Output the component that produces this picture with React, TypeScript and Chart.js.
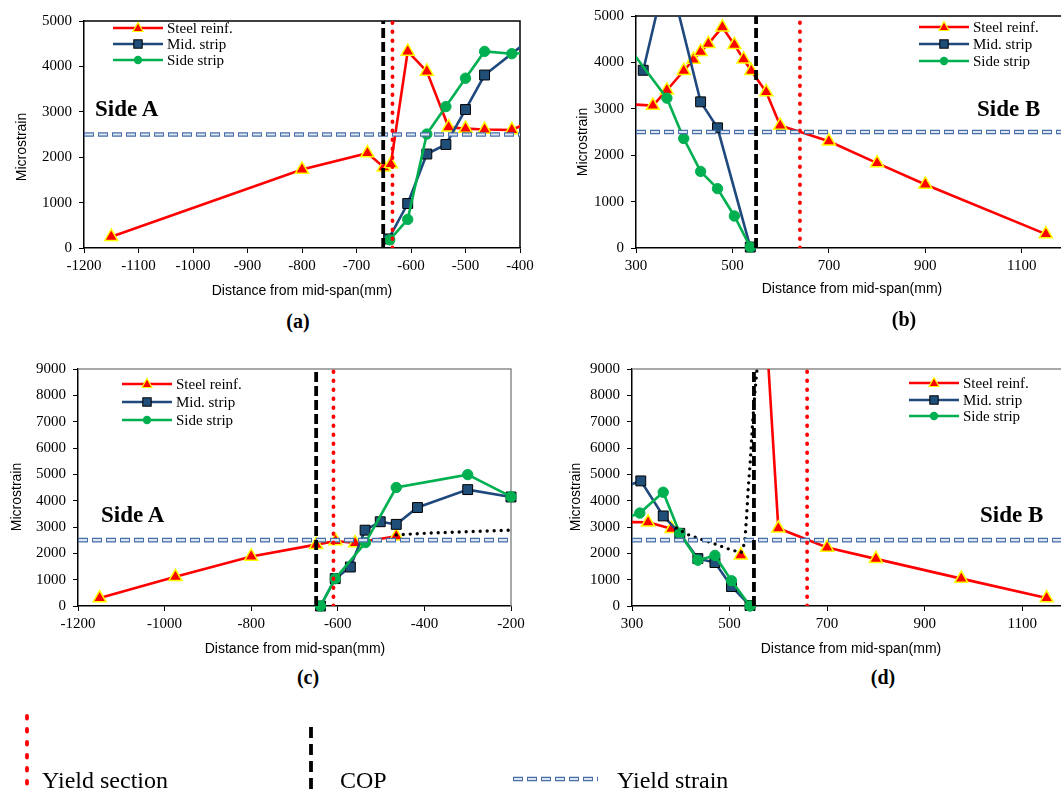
import React, { useEffect, useRef } from 'react';
import { Chart, registerables } from 'chart.js';
Chart.register(...registerables);

const SERIF = '"Liberation Serif", "Times New Roman", serif';
const SANS = '"Liberation Sans", Arial, sans-serif';

// ---------- Panel (a): Side A, first specimen ----------
const aSteelX = [-1150, -800, -680, -650, -637, -606, -571, -531, -500, -465, -415, -380];
const aSteelY = [250, 1730, 2090, 1780, 1850, 4330, 3890, 2660, 2630, 2610, 2600, 2790];
const aMidX = [-641, -606, -571, -536, -500, -465, -380];
const aMidY = [200, 980, 2070, 2280, 3050, 3810, 4610];
const aSideX = [-639, -606, -571, -536, -500, -465, -415, -380];
const aSideY = [180, 630, 2510, 3115, 3740, 4330, 4280, 4300];
const aCop = -651;
const aYieldSection = -634;
const aXTicks = [-1200, -1100, -1000, -900, -800, -700, -600, -500, -400];

// ---------- Panel (b): Side B, first specimen ----------
const bSteelX = [280, 335, 364, 399, 419, 434, 450, 479, 504, 523, 539, 570, 599, 700, 800, 900, 1150];
const bSteelY = [3100, 3070, 3400, 3820, 4060, 4230, 4400, 4760, 4380, 4070, 3820, 3360, 2640, 2300, 1830, 1370, 300];
const bMidX = [315, 365, 434, 469, 537];
const bMidY = [3830, 6040, 3150, 2590, 20];
const bSideX = [280, 364, 399, 434, 469, 504, 537];
const bSideY = [4390, 3230, 2360, 1650, 1280, 690, 20];
const bCop = 549;
const bYieldSection = 640;
const bXTicks = [300, 500, 700, 900, 1100];

// ---------- Panel (c): Side A, second specimen ----------
const cSteelX = [-1150, -975, -800, -650, -605, -560, -465];
const cSteelY = [300, 1110, 1880, 2330, 2470, 2390, 2650];
const cMidX = [-640, -606, -571, -537, -502, -465, -416, -300, -200];
const cMidY = [0, 1040, 1480, 2880, 3200, 3100, 3740, 4420, 4140];
const cSideX = [-640, -606, -536, -465, -300, -200];
const cSideY = [0, 1040, 2410, 4500, 4990, 4150];
const cTrendX = [-465, -400, -320, -200];
const cTrendY = [2700, 2760, 2810, 2880];
const cCop = -650;
const cYieldSection = -610;
const cXTicks = [-1200, -1000, -800, -600, -400, -200];

// ---------- Panel (d): Side B, second specimen ----------
const dSteelX = [280, 333, 381, 455, 523, 560, 565, 600, 700, 800, 975, 1150];
const dSteelY = [3190, 3180, 2930, null, 1930, null, 13540, 2950, 2220, 1790, 1040, 300];
const dMidX = [280, 318, 364, 398, 435, 470, 504, 542];
const dMidY = [4500, 4750, 3420, 2760, 1800, 1650, 740, 20];
const dSideX = [280, 316, 364, 398, 435, 470, 504, 542];
const dSideY = [3290, 3530, 4320, 2760, 1740, 1920, 960, 0];
const dTrendX = [391, 415, 442, 473, 500, 524, 531, 535, 538, 543, 547, 552, 556, 560];
const dTrendY = [2960, 2710, 2530, 2340, 2150, 2030, 2400, 3400, 4390, 5630, 6880, 8120, 8930, 9600];
const dCop = 550;
const dYieldSection = 659;
const dXTicks = [300, 500, 700, 900, 1100];

const yTicks5 = [0, 1000, 2000, 3000, 4000, 5000];
const yTicks9 = [0, 1000, 2000, 3000, 4000, 5000, 6000, 7000, 8000, 9000];
const yieldStrain = 2500;

const seriesNames = ['Steel reinf.', 'Mid. strip', 'Side strip'];

const RED = '#ff0000';
const YELLOW = '#ffff00';
const NAVY = '#1f497d';
const NAVY_FILL = '#1f4e79';
const GREEN = '#00b050';
const YS_OUT = '#4a6ea8';
const YS_IN = '#dce6f2';

const YW = 75, PT = 12, PR = 30, XH = 40;

function pts(xs: number[], ys: (number | null)[]) {
  return xs.map((x, i) => ({ x, y: ys[i] }));
}

function steelDs(xs: number[], ys: (number | null)[], clip: any) {
  return {
    label: seriesNames[0], data: pts(xs, ys), showLine: true, spanGaps: false,
    borderColor: RED, borderWidth: 2.6, pointStyle: 'triangle', pointRadius: 7.5,
    pointBackgroundColor: RED, pointBorderColor: YELLOW, pointBorderWidth: 1.5, clip,
  };
}
function midDs(xs: number[], ys: number[], clip: any) {
  return {
    label: seriesNames[1], data: pts(xs, ys), showLine: true,
    borderColor: NAVY, borderWidth: 2.6, pointStyle: 'rect', pointRadius: 7,
    pointBackgroundColor: NAVY_FILL, pointBorderColor: '#000', pointBorderWidth: 1, clip,
  };
}
function sideDs(xs: number[], ys: number[], clip: any) {
  return {
    label: seriesNames[2], data: pts(xs, ys), showLine: true,
    borderColor: GREEN, borderWidth: 2.6, pointStyle: 'circle', pointRadius: 5.2,
    pointBackgroundColor: GREEN, pointBorderColor: GREEN, pointBorderWidth: 1, clip,
  };
}
function trendDs(xs: number[], ys: number[]) {
  return {
    label: 'trend', data: pts(xs, ys), showLine: true, borderColor: '#000', borderWidth: 3.4,
    borderDash: [0, 7], borderCapStyle: 'round', pointRadius: 0, clip: 0,
  };
}
function refLines(cop: number, ys: number, yMax: number, xMin: number, xMax: number) {
  return [
    {
      label: 'Yield section', data: [{ x: ys, y: 0 }, { x: ys, y: yMax }], showLine: true,
      borderColor: RED, borderWidth: 3.8, borderDash: [0.6, 8.4], borderCapStyle: 'round', pointRadius: 0, clip: 0,
    },
    {
      label: 'COP', data: [{ x: cop, y: 0 }, { x: cop, y: yMax }], showLine: true,
      borderColor: '#000', borderWidth: 3.8, borderDash: [10, 4], pointRadius: 0, clip: 0,
    },
    {
      label: 'Yield strain inner', data: [{ x: xMin, y: yieldStrain }, { x: xMax, y: yieldStrain }], showLine: true,
      borderColor: YS_IN, borderWidth: 2.2, borderDash: [8, 6], borderDashOffset: -1, pointRadius: 0, clip: 0,
    },
    {
      label: 'Yield strain', data: [{ x: xMin, y: yieldStrain }, { x: xMax, y: yieldStrain }], showLine: true,
      borderColor: YS_OUT, borderWidth: 4.6, borderDash: [10, 4], pointRadius: 0, clip: 0,
    },
  ];
}

const framePlugin = {
  id: 'frame',
  beforeDatasetsDraw(chart: any, _args: any, opts: any) {
    const { ctx, chartArea } = chart;
    const { left, right, top, bottom } = chartArea;
    ctx.save();
    ctx.strokeStyle = opts.color || '#000';
    ctx.lineWidth = opts.width || 1.5;
    ctx.beginPath();
    ctx.moveTo(left, top);
    ctx.lineTo(right, top);
    ctx.lineTo(right, bottom);
    ctx.stroke();
    ctx.restore();
  },
};

type Spec = {
  l: number; t: number; r: number; b: number;
  xMin: number; xMax: number; xTicks: number[];
  yMax: number; yTicks: number[];
  datasets: any[]; frame: string;
};

function Panel({ spec }: { spec: Spec }) {
  const ref = useRef<HTMLCanvasElement | null>(null);
  const W = spec.r - spec.l + YW + PR;
  const H = spec.b - spec.t + PT + XH;
  useEffect(() => {
    if (!ref.current) return;
    const grid = { display: true, drawOnChartArea: false, drawTicks: true, tickLength: 5, color: '#000', lineWidth: 1 };
    const chart = new Chart(ref.current, {
      type: 'scatter',
      data: { datasets: spec.datasets },
      plugins: [framePlugin],
      options: {
        responsive: false,
        animation: false,
        devicePixelRatio: 1,
        events: [],
        layout: { padding: { top: PT, right: PR, left: 0, bottom: 0 }, autoPadding: false },
        plugins: { legend: { display: false }, tooltip: { enabled: false }, frame: { color: spec.frame, width: 1.5 } } as any,
        scales: {
          x: {
            type: 'linear', min: spec.xMin, max: spec.xMax,
            afterBuildTicks: (s: any) => { s.ticks = spec.xTicks.map((v) => ({ value: v })); },
            afterFit: (s: any) => { s.height = XH; },
            grid, border: { display: true, color: '#000', width: 1.5 },
            ticks: { font: { family: SERIF, size: 15 }, color: '#000', padding: 4, maxRotation: 0, autoSkip: false, callback: (v: any) => String(v) },
          },
          y: {
            type: 'linear', min: 0, max: spec.yMax,
            afterBuildTicks: (s: any) => { s.ticks = spec.yTicks.map((v) => ({ value: v })); },
            afterFit: (s: any) => { s.width = YW; },
            grid, border: { display: true, color: '#000', width: 1.5 },
            ticks: { font: { family: SERIF, size: 15 }, color: '#000', padding: 7, autoSkip: false, callback: (v: any) => String(v) },
          },
        },
      } as any,
    });
    return () => chart.destroy();
  }, []);
  return (
    <canvas ref={ref} width={W} height={H}
      style={{ position: 'absolute', left: spec.l - YW, top: spec.t - PT, width: W, height: H }} />
  );
}

const clipA = { left: 0, top: 0, right: 0, bottom: 8 };
const clipB = { left: 0, top: 0, right: 8, bottom: 8 };

const specs: Spec[] = [
  {
    l: 84, t: 17, r: 520, b: 248, xMin: -1200, xMax: -400, xTicks: aXTicks, yMax: 5000, yTicks: yTicks5, frame: '#000',
    datasets: [...refLines(aCop, aYieldSection, 5000, -1200, -400), sideDs(aSideX, aSideY, clipA), midDs(aMidX, aMidY, clipA), steelDs(aSteelX, aSteelY, clipA)],
  },
  {
    l: 636, t: 12, r: 1070, b: 248, xMin: 300, xMax: 1200, xTicks: bXTicks, yMax: 5000, yTicks: yTicks5, frame: '#000',
    datasets: [...refLines(bCop, bYieldSection, 5000, 300, 1200), sideDs(bSideX, bSideY, clipA), midDs(bMidX, bMidY, clipA), steelDs(bSteelX, bSteelY, clipA)],
  },
  {
    l: 78, t: 365, r: 511, b: 606, xMin: -1200, xMax: -200, xTicks: cXTicks, yMax: 9000, yTicks: yTicks9, frame: '#8c8c8c',
    datasets: [...refLines(cCop, cYieldSection, 9000, -1200, -200), trendDs(cTrendX, cTrendY), sideDs(cSideX, cSideY, clipB), midDs(cMidX, cMidY, clipB), steelDs(cSteelX, cSteelY, clipB)],
  },
  {
    l: 632, t: 365, r: 1071, b: 606, xMin: 300, xMax: 1200, xTicks: dXTicks, yMax: 9000, yTicks: yTicks9, frame: '#8c8c8c',
    datasets: [...refLines(dCop, dYieldSection, 9000, 300, 1200), trendDs(dTrendX, dTrendY), sideDs(dSideX, dSideY, clipB), midDs(dMidX, dMidY, clipB), steelDs(dSteelX, dSteelY, clipB)],
  },
];

function Txt({ x, y, text, size, bold, family, align, rotate }: any) {
  const tx = align === 'center' ? '-50%' : '0';
  let transform = `translate(${tx}, -50%)`;
  if (rotate) transform = 'translate(-50%, -50%) rotate(-90deg)';
  return (
    <div style={{
      position: 'absolute', left: x, top: y, whiteSpace: 'nowrap', lineHeight: 1,
      fontSize: size, fontWeight: bold ? 'bold' : 'normal', fontFamily: family || SERIF,
      color: '#000', transform, transformOrigin: rotate ? 'center' : 'left center',
    }}>{text}</div>
  );
}

function Glyph({ kind }: { kind: number }) {
  const color = [RED, NAVY, GREEN][kind];
  return (
    <svg width={50} height={14} style={{ display: 'block' }}>
      <line x1={0} y1={7} x2={50} y2={7} stroke={color} strokeWidth={2.6} />
      {kind === 0 && <polygon points="25,1.5 30,10.5 20,10.5" fill={RED} stroke={YELLOW} strokeWidth={1.2} />}
      {kind === 1 && <rect x={20.8} y={2.8} width={8.4} height={8.4} fill={NAVY_FILL} stroke="#000" strokeWidth={1} />}
      {kind === 2 && <circle cx={25} cy={7} r={4.2} fill={GREEN} />}
    </svg>
  );
}

function Legend({ x, tx, rows }: { x: number; tx: number; rows: number[] }) {
  return (
    <>
      {rows.map((ry, i) => (
        <React.Fragment key={i}>
          <div style={{ position: 'absolute', left: x, top: ry - 7 }}><Glyph kind={i} /></div>
          <Txt x={tx} y={ry} text={seriesNames[i]} size={15} />
        </React.Fragment>
      ))}
    </>
  );
}

export default function App() {
  return (
    <div style={{ position: 'fixed', left: 0, top: 0, width: 1061, height: 793, overflow: 'hidden', background: '#fff' }}>
      {specs.map((s, i) => <Panel key={i} spec={s} />)}

      <Txt x={21} y={147} text="Microstrain" size={14} family={SANS} rotate />
      <Txt x={582} y={142} text="Microstrain" size={14} family={SANS} rotate />
      <Txt x={16} y={497} text="Microstrain" size={14} family={SANS} rotate />
      <Txt x={575} y={497} text="Microstrain" size={14} family={SANS} rotate />

      <Txt x={302} y={290} text="Distance from mid-span(mm)" size={14} family={SANS} align="center" />
      <Txt x={852} y={288} text="Distance from mid-span(mm)" size={14} family={SANS} align="center" />
      <Txt x={295} y={648} text="Distance from mid-span(mm)" size={14} family={SANS} align="center" />
      <Txt x={851} y={648} text="Distance from mid-span(mm)" size={14} family={SANS} align="center" />

      <Txt x={95} y={108} text="Side A" size={23} bold />
      <Txt x={977} y={108} text="Side B" size={23} bold />
      <Txt x={101} y={514} text="Side A" size={23} bold />
      <Txt x={980} y={514} text="Side B" size={23} bold />

      <Legend x={113} tx={167} rows={[28, 44, 60]} />
      <Legend x={919} tx={973} rows={[27, 44, 61]} />
      <Legend x={122} tx={176} rows={[384, 402, 420]} />
      <Legend x={909} tx={963} rows={[383, 400, 416]} />

      <Txt x={298} y={321} text="(a)" size={20} bold align="center" />
      <Txt x={904} y={319} text="(b)" size={20} bold align="center" />
      <Txt x={308} y={677} text="(c)" size={20} bold align="center" />
      <Txt x={883} y={677} text="(d)" size={20} bold align="center" />

      <svg width={1061} height={793} style={{ position: 'absolute', left: 0, top: 0, pointerEvents: 'none' }}>
        <line x1={27} y1={716} x2={27} y2={784} stroke={RED} strokeWidth={3.8} strokeDasharray="2.5 10.5" strokeLinecap="round" />
        <line x1={311} y1={727} x2={311} y2={793} stroke="#000" strokeWidth={3.8} strokeDasharray="11 6" />
        <line x1={513} y1={779} x2={598} y2={779} stroke={YS_OUT} strokeWidth={4.6} strokeDasharray="10 4" />
        <line x1={513} y1={779} x2={598} y2={779} stroke={YS_IN} strokeWidth={2.2} strokeDasharray="8 6" strokeDashoffset={-1} />
      </svg>
      <Txt x={42} y={780} text="Yield section" size={24} />
      <Txt x={340} y={780} text="COP" size={24} />
      <Txt x={617} y={780} text="Yield strain" size={24} />
    </div>
  );
}
